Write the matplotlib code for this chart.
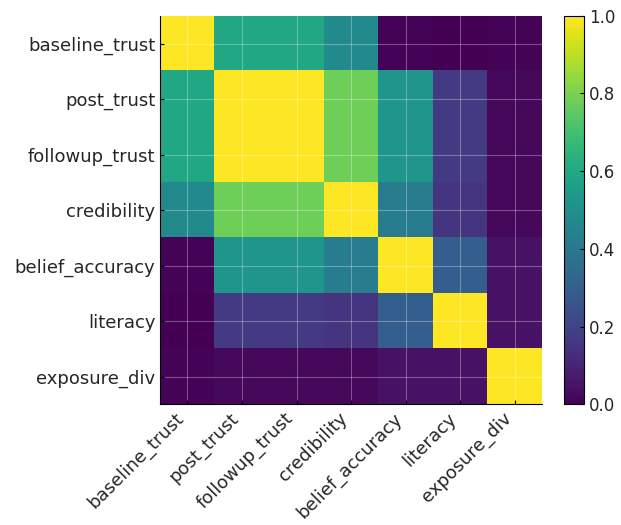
import numpy as np
import matplotlib
matplotlib.use("Agg")
from matplotlib import pyplot as plt

labels = ["baseline_trust", "post_trust", "followup_trust", "credibility",
          "belief_accuracy", "literacy", "exposure_div"]

# correlation matrix, rows in the same order as labels
baseline_trust = [1.00, 0.60, 0.60, 0.48, 0.01, 0.00, 0.01]
post_trust = [0.60, 1.00, 1.00, 0.78, 0.52, 0.17, 0.02]
followup_trust = [0.60, 1.00, 1.00, 0.78, 0.52, 0.17, 0.02]
credibility = [0.48, 0.78, 0.78, 1.00, 0.42, 0.15, 0.02]
belief_accuracy = [0.01, 0.52, 0.52, 0.42, 1.00, 0.30, 0.05]
literacy = [0.00, 0.17, 0.17, 0.15, 0.30, 1.00, 0.05]
exposure_div = [0.01, 0.02, 0.02, 0.02, 0.05, 0.05, 1.00]

corr = np.array([baseline_trust, post_trust, followup_trust, credibility,
                 belief_accuracy, literacy, exposure_div])

plt.rcParams["font.family"] = "DejaVu Sans"
plt.rcParams["font.size"] = 13
plt.rcParams["xtick.direction"] = "in"
plt.rcParams["ytick.direction"] = "in"

fig = plt.figure(figsize=(6.21, 5.25), dpi=100)
ax = fig.add_axes([0.258, 0.230, 0.615, 0.740])
im = ax.imshow(corr, cmap="viridis", vmin=0, vmax=1, aspect="auto")

ax.set_xticks(range(len(labels)))
ax.set_yticks(range(len(labels)))
ax.set_xticklabels(labels, rotation=45, ha="right", color="#262626")
ax.set_yticklabels(labels, color="#262626")
ax.tick_params(length=3, width=0.8)
ax.grid(True, color="white", alpha=0.3, linewidth=0.8)
ax.spines["top"].set_visible(False)
ax.spines["right"].set_visible(False)

cax = fig.add_axes([0.908, 0.230, 0.033, 0.740])
cb = fig.colorbar(im, cax=cax)
cb.set_ticks([0.0, 0.2, 0.4, 0.6, 0.8, 1.0])
cb.ax.tick_params(direction="in", length=3, labelsize=12, labelcolor="#262626")

fig.savefig("out.png", dpi=100)
